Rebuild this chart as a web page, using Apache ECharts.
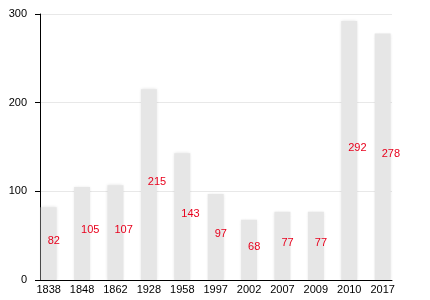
<!DOCTYPE html>
<html>
<head>
<meta charset="utf-8">
<script src="https://cdn.jsdelivr.net/npm/echarts@6/dist/echarts.min.js"></script>
<style>
  html, body { margin: 0; padding: 0; background: #fff; }
  #chart { width: 430px; height: 300px; }
</style>
</head>
<body>
<div id="chart"></div>
<script>
var years = ['1838', '1848', '1862', '1928', '1958', '1997', '2002', '2007', '2009', '2010', '2017'];
var counts = [82, 105, 107, 215, 143, 97, 68, 77, 77, 292, 278];
var yTicks = [0, 100, 200, 300];

var chart = echarts.init(document.getElementById('chart'));

var option = {
  animation: false,
  grid: { left: 40, right: 38, top: 14, bottom: 20 },
  xAxis: {
    type: 'value',
    min: -0.26,
    max: 10.28,
    splitLine: { show: false },
    axisLine: { onZero: false, lineStyle: { color: '#000', width: 1 } },
    axisTick: { show: false },
    axisLabel: {
      customValues: years.map(function (y, i) { return i; }),
      formatter: function (v) { return years[Math.round(v)]; },
      color: '#000',
      fontSize: 11,
      fontFamily: 'Liberation Sans, Arial, sans-serif',
      margin: 4
    }
  },
  yAxis: {
    type: 'value',
    min: 0,
    max: 300,
    interval: 100,
    axisLine: { show: true, onZero: false, lineStyle: { color: '#000', width: 1 } },
    axisTick: { show: true, length: 5, lineStyle: { color: '#000' } },
    axisLabel: {
      color: '#000',
      fontSize: 11,
      fontFamily: 'Liberation Sans, Arial, sans-serif',
      margin: 13,
      customValues: yTicks
    },
    splitLine: { lineStyle: { color: '#e8e8e8', width: 1 } }
  },
  series: [
    {
      type: 'bar',
      barWidth: 16,
      data: counts.map(function (v, i) { return [i, v]; }),
      itemStyle: {
        color: '#e6e6e6',
        shadowBlur: 3,
        shadowColor: 'rgba(0, 0, 0, 0.12)'
      },
      label: {
        show: true,
        position: 'inside',
        align: 'left',
        offset: [-1, -3],
        color: '#e8001c',
        fontSize: 11,
        fontFamily: 'Liberation Sans, Arial, sans-serif',
        formatter: function (p) { return p.value[1]; }
      }
    }
  ]
};

chart.setOption(option);
</script>
</body>
</html>
